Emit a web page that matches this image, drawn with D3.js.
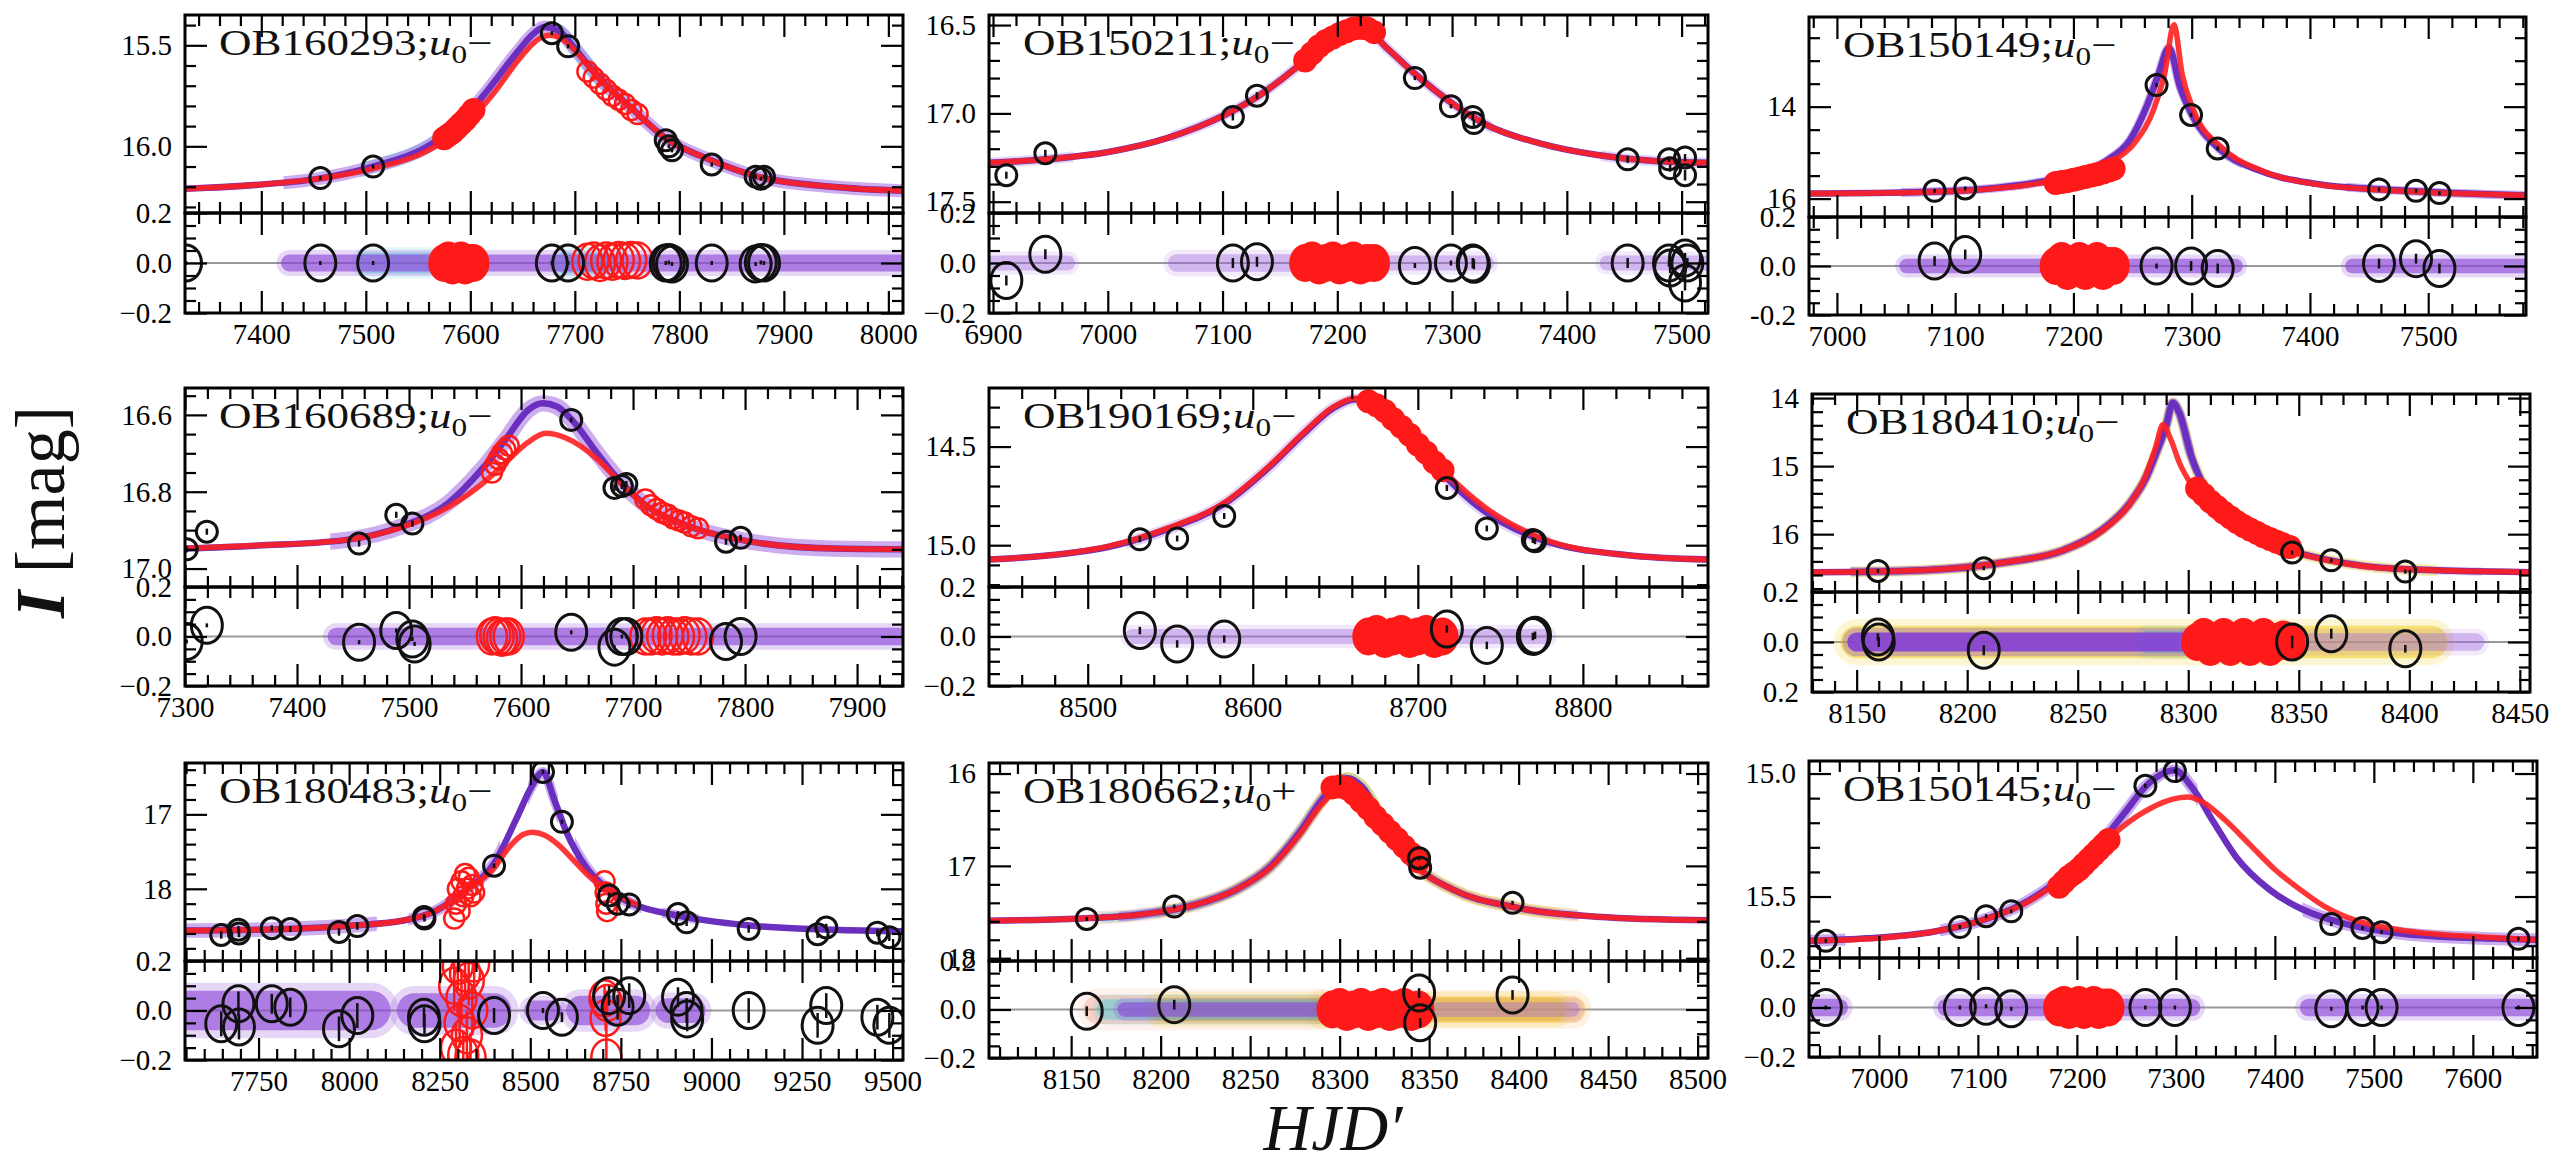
<!DOCTYPE html>
<html><head><meta charset="utf-8">
<script src="https://cdn.jsdelivr.net/npm/d3@7"></script>
<style>html,body{margin:0;padding:0;background:#fff;}svg{display:block}</style>
</head><body>
<svg id="chart" width="2575" height="1166"></svg>
<script>
// ---------------- DATA ----------------
const titles = ["OB160293","OB150211","OB150149","OB160689","OB190169","OB180410","OB180483","OB180662","OB150145"];
const signs  = ["−","−","−","−","−","−","−","+","−"];
const resTicks = [0.2, 0.0, -0.2];
const resLabelsStd = ["0.2","0.0","−0.2"];
const resLabelsC = ["0.2","0.0","-0.2"];
const resLabelsF = ["0.2","0.0","0.2"];

// Panel A  OB160293
const A_xTicks = [7400,7500,7600,7700,7800,7900,8000];
const A_yTicks = [15.5,16.0];
const A_purple = [[7327,16.21],[7397,16.19],[7455,16.16],[7507,16.10],[7556,16.01],[7589,15.89],[7617,15.72],[7644,15.54],[7661,15.44],[7671,15.41],[7685,15.43],[7699,15.51],[7721,15.65],[7754,15.81],[7787,15.96],[7831,16.07],[7875,16.15],[7946,16.20],[8014,16.22]];
const A_red = [[7327,16.21],[7397,16.19],[7455,16.16],[7507,16.11],[7556,16.03],[7592,15.91],[7622,15.74],[7648,15.56],[7665,15.47],[7676,15.45],[7688,15.47],[7701,15.53],[7722,15.66],[7754,15.81],[7787,15.96],[7831,16.07],[7875,16.15],[7946,16.20],[8014,16.22]];
const A_black = [[7328,null,0,0.004],[7456.5,16.157,0,0.004],[7507,16.10,0,0.006],[7678,15.44,0,0.004],[7693.6,15.505,0,0.004],[7787,15.97,0,0.004],[7790,16.0,0.002,0.004],[7793,16.02,-0.004,0.004],[7831,16.09,0,0.004],[7873,16.15,-0.004,0.004],[7878,16.16,0.002,0.004],[7881,16.15,0,0.004]];
const A_redDense = [[7575,15.96,0],[7579,15.945,0.01],[7583,15.93,-0.01],[7587,15.91,0],[7591,15.89,0.01],[7595,15.87,-0.01],[7599,15.845,0],[7603,15.82,0]];
const A_redOpen = [[7712,15.63,0.005],[7718,15.66,0.01],[7724,15.69,0.0],[7730,15.72,0.01],[7736,15.75,0.005],[7742,15.77,0.012],[7748,15.79,0.008],[7754,15.82,0.012],[7760,15.84,0.01]];
const A_bands = [["kmt",7500,7560,0.042,0.018],["kmt",7690,7725,0.042,0.018],["ogle",7427,8014,0.034,0.015]];

// Panel B  OB150211
const B_xTicks = [6900,7000,7100,7200,7300,7400,7500];
const B_yTicks = [16.5,17.0,17.5];
const B_purple = [[6896.5,17.28],[6946.6,17.26],[7001.6,17.217],[7051.6,17.14],[7101.6,17.01],[7131.6,16.90],[7161.6,16.755],[7181.6,16.64],[7201.6,16.557],[7216.6,16.52],[7226.6,16.53],[7241.6,16.62],[7266.6,16.77],[7301.6,16.95],[7331.6,17.07],[7376.5,17.17],[7426.7,17.236],[7476.7,17.27],[7523,17.28]];
const B_red = [[6896.5,17.28],[6946.6,17.26],[7001.6,17.217],[7051.6,17.14],[7101.6,17.01],[7131.6,16.9],[7161.6,16.755],[7181.6,16.645],[7201.6,16.562],[7216.6,16.527],[7226.6,16.535],[7241.6,16.62],[7266.6,16.77],[7301.6,16.95],[7331.6,17.07],[7376.5,17.17],[7426.7,17.236],[7476.7,17.27],[7523,17.28]];
const B_black = [[6911.6,17.35,-0.07,0.02],[6945.6,17.226,0.035,0.02],[7109,17.02,0,0.02],[7130,16.90,0.005,0.02],[7267.6,16.80,-0.01,0.01],[7299,16.96,0,0.01],[7318,17.02,0,0.02],[7319,17.055,-0.005,0.02],[7453,17.26,0,0.02],[7489,17.26,0,0.015],[7490,17.31,-0.02,0.02],[7503,17.25,0.02,0.02],[7503,17.35,-0.08,0.03],[7505,null,0,0.02]];
const B_redDense = [[7172,16.70,0],[7178,16.66,0.01],[7184,16.62,-0.01],[7190,16.59,0],[7196,16.57,0.01],[7202,16.55,-0.01],[7208,16.535,0],[7214,16.52,0.01],[7220,16.515,-0.01],[7226,16.52,0],[7232,16.54,0]];
const B_redOpen = [];
const B_bands = [["ogleLight",6900,6965,0.03,0.01],["ogleLight",7060,7175,0.035,0.01],["ogleLight",7235,7330,0.03,0.01],["ogleLight",7435,7523,0.03,0.01]];

// Panel C  OB150149
const C_xTicks = [7000,7100,7200,7300,7400,7500];
const C_yTicks = [14,16];
const C_purple = [[6976,15.89],[7073,15.856],[7120,15.80],[7167.5,15.66],[7205,15.45],[7229,15.16],[7247.7,14.73],[7261.8,14.0],[7271.3,13.35],[7280.8,12.72],[7290,13.56],[7299.5,14.14],[7323,14.91],[7356,15.38],[7403,15.67],[7474,15.82],[7583,15.93]];
const C_red = [[6976,15.89],[7073,15.86],[7120,15.81],[7167.5,15.68],[7205,15.5],[7232,15.2],[7252,14.78],[7268,14.05],[7277,13.3],[7285,12.22],[7292,13.3],[7302,14.1],[7326,14.9],[7358,15.38],[7403,15.68],[7474,15.83],[7583,15.93]];
const C_black = [[7082.6,15.83,0.02,0.02],[7108.5,15.78,0.047,0.02],[7270.3,13.53,0,0.01],[7299.5,14.18,0,0.02],[7322,14.91,-0.01,0.02],[7458.4,15.80,0.01,0.02],[7489.7,15.83,0.03,0.02],[7509.5,15.88,-0.01,0.02]];
const C_redDense = [[7185,15.66,0],[7190,15.64,0.02],[7195,15.62,-0.02],[7200,15.59,0],[7205,15.56,0.02],[7210,15.53,-0.02],[7215,15.50,0],[7220,15.47,0.02],[7225,15.43,-0.02],[7230,15.39,0],[7234,15.35,0]];
const C_redOpen = [];
const C_bands = [["ogle",7059,7337,0.03,0.02],["ogle",7436,7583,0.03,0.02]];

// Panel D  OB160689
const D_xTicks = [7300,7400,7500,7600,7700,7800,7900];
const D_yTicks = [16.6,16.8,17.0];
const D_purple = [[7300,16.948],[7365.6,16.94],[7442.5,16.926],[7493.7,16.89],[7534.8,16.83],[7565.5,16.74],[7586,16.665],[7606.5,16.587],[7619.4,16.57],[7632,16.578],[7647.5,16.62],[7668,16.70],[7688.6,16.774],[7709,16.83],[7750,16.89],[7801,16.928],[7878,16.948],[7941,16.95]];
const D_red = [[7300,16.948],[7365,16.94],[7442,16.926],[7494,16.892],[7535,16.84],[7565,16.78],[7586,16.725],[7606,16.672],[7622,16.648],[7640,16.66],[7668,16.715],[7688,16.775],[7709,16.83],[7750,16.89],[7801,16.928],[7878,16.948],[7941,16.95]];
const D_black = [[7301.5,16.95,-0.02,0.008],[7319.5,16.904,0.045,0.008],[7455.4,16.935,-0.023,0.008],[7488.6,16.86,0.024,0.008],[7503,16.883,-0.01,0.008],[7505,null,-0.03,0.008],[7644.8,16.613,0.017,0.006],[7683.4,16.79,-0.043,0.008],[7690,16.785,0,0.008],[7694,16.78,0,0.008],[7783,16.93,-0.02,0.008],[7796,16.92,0,0.008]];
const D_redDense = [];
const D_redOpen = [[7574,16.75,0],[7577,16.73,0.005],[7580,16.715,0],[7583,16.70,-0.005],[7586,16.69,0],[7589,16.68,0],[7711,16.82,0],[7716,16.835,0],[7721,16.845,0.005],[7726,16.855,0],[7731,16.86,0.005],[7736,16.87,0],[7741,16.875,0],[7746,16.88,0.005],[7752,16.89,0],[7758,16.895,0]];
const D_bands = [["ogle",7435,7941,0.035,0.012]];

// Panel E  OB190169
const E_xTicks = [8500,8600,8700,8800];
const E_yTicks = [14.5,15.0];
const E_purple = [[8440.2,15.073],[8478.5,15.05],[8513,15.008],[8548,14.92],[8582.7,14.79],[8610.5,14.60],[8631.4,14.43],[8648.7,14.305],[8662.6,14.26],[8676.5,14.297],[8693.9,14.43],[8714.8,14.635],[8739.1,14.82],[8773.9,14.97],[8826,15.05],[8875.8,15.073]];
const E_red = [[8440.2,15.073],[8478.5,15.05],[8513,15.005],[8548,14.915],[8582.7,14.785],[8610.5,14.595],[8631.4,14.425],[8648.7,14.30],[8662.6,14.255],[8677,14.29],[8695,14.42],[8716,14.625],[8741,14.81],[8775,14.965],[8826,15.05],[8875.8,15.073]];
const E_black = [[8531.6,14.97,0.024,0.015],[8554.2,14.966,-0.03,0.015],[8582.7,14.852,-0.01,0.015],[8717.6,14.71,0.03,0.015],[8741.8,14.915,-0.036,0.015],[8769.7,14.974,0,0.015],[8771,14.98,0.005,0.015]];
const E_redDense = [[8670,14.27,0],[8675,14.29,0.01],[8680,14.32,-0.01],[8685,14.36,0],[8690,14.40,0.01],[8695,14.44,-0.01],[8700,14.49,0],[8705,14.53,0.01],[8710,14.58,-0.01],[8715,14.62,0]];
const E_redOpen = [];
const E_bands = [["ogleLight",8527,8777,0.03,0.012]];

// Panel F  OB180410
const F_xTicks = [8150,8200,8250,8300,8350,8400,8450];
const F_yTicks = [14,15,16];
const F_purple = [[8129.8,16.56],[8180.2,16.53],[8218,16.41],[8243.2,16.24],[8260.9,15.94],[8273.5,15.55],[8281,15.16],[8286,14.76],[8289.9,14.42],[8293,14.07],[8296,14.22],[8301,14.81],[8308.8,15.40],[8321.4,15.84],[8339,16.16],[8364.2,16.385],[8394.4,16.51],[8454.5,16.56]];
const F_red = [[8129.8,16.56],[8180,16.53],[8218,16.41],[8243,16.24],[8261,15.95],[8273,15.58],[8280,15.2],[8285,14.75],[8288.6,14.39],[8292,14.6],[8296,14.95],[8302,15.3],[8310,15.6],[8321,15.88],[8339,16.17],[8364,16.39],[8394,16.51],[8454.5,16.56]];
const F_black = [[8159.6,16.54,0.02,0.015],[8160,null,0,0.02],[8207.5,16.50,-0.033,0.02],[8347,16.27,0,0.025],[8364.7,16.385,0.033,0.02],[8398.2,16.55,-0.027,0.015]];
const F_redDense = [[8304,15.33,0],[8307,15.42,0.02],[8310,15.52,-0.02],[8313,15.6,0],[8316,15.68,0.02],[8319,15.75,-0.02],[8322,15.82,0],[8325,15.88,0.02],[8328,15.93,-0.02],[8331,15.98,0],[8334,16.03,0.02],[8337,16.07,-0.02],[8340,16.11,0],[8343,16.15,0.01],[8346,16.19,0]];
const F_redOpen = [];
const F_bands = [["yellow",8150,8410,0.065,0.03],["kmt",8282,8308,0.045,0.01],["ogleSolid",8150,8300,0.038,0.015],["ogleLight",8300,8430,0.035,0.01]];

// Panel G  OB180483
const G_xTicks = [7750,8000,8250,8500,8750,9000,9250,9500];
const G_yTicks = [17,18];
const G_purple = [[7547,18.56],[7829,18.54],[8019.6,18.49],[8146.4,18.43],[8241.7,18.29],[8321,18.02],[8400,17.66],[8463.5,17.04],[8503.3,16.63],[8535,16.43],[8566.8,16.81],[8598.3,17.22],[8653.9,17.71],[8717.4,18.02],[8781,18.20],[8907.7,18.36],[9098,18.49],[9336,18.55],[9528.7,18.57]];
const G_red = [[7547,18.56],[7829,18.54],[8020,18.49],[8146,18.43],[8242,18.29],[8321,18.03],[8400,17.72],[8440,17.45],[8480,17.27],[8505,17.24],[8540,17.28],[8580,17.42],[8620,17.62],[8660,17.82],[8720,18.03],[8800,18.22]];
const G_black = [[7647,18.62,-0.054,0.05],[7694.5,18.55,0.027,0.05],[7696,18.60,-0.067,0.05],[7786.5,18.53,0.027,0.04],[7837.5,18.54,0.013,0.04],[7972,18.58,-0.074,0.05],[8022.6,18.50,-0.02,0.05],[8206.6,18.38,-0.027,0.04],[8208,18.40,-0.054,0.04],[8400,17.69,-0.02,0.03],[8535,16.43,0,0.01],[8587.3,17.10,-0.027,0.02],[8717.4,18.09,0.06,0.04],[8741,18.20,0.013,0.05],[8773,18.21,0.06,0.05],[8907.7,18.34,0.054,0.04],[8931.5,18.45,0,0.05],[8933,null,-0.034,0.05],[9102.8,18.54,0,0.05],[9293,18.61,-0.06,0.05],[9316.9,18.52,0.02,0.05],[9458,18.59,-0.027,0.05],[9491,18.65,-0.06,0.05]];
const G_redDense = [];
const G_redOpen = [[8290,18.40,0.1,0.1],[8295,18.2,-0.15,0.1],[8300,18.0,0.18,0.1],[8305,18.3,-0.05,0.1],[8310,17.9,0.05,0.1],[8315,18.1,-0.18,0.1],[8320,17.8,0.15,0.1],[8325,18.0,-0.1,0.1],[8330,17.85,0.12,0.1],[8335,18.1,-0.19,0.1],[8340,17.95,0.0,0.1],[8345,18.05,0.19,0.1],[8705,17.9,0.05,0.05],[8708,18.05,-0.03,0.05],[8710,18.2,-0.19,0.15],[8712,18.3,0.03,0.05]];
const G_bands = [["ogle",7547,8060,0.08,0.05],["ogle",8180,8400,0.07,0.03],["ogle",8510,8560,0.04,0.02],["ogle",8640,8790,0.06,0.03],["ogle",8880,8950,0.05,0.02]];

// Panel H  OB180662
const H_xTicks = [8150,8200,8250,8300,8350,8400,8450,8500];
const H_yTicks = [16,17,18];
const H_purple = [[8104,17.593],[8155.4,17.57],[8187.4,17.53],[8219.5,17.42],[8241.9,17.26],[8261.2,17.01],[8277.2,16.65],[8290,16.29],[8299.6,16.09],[8304.4,16.05],[8312.4,16.14],[8325.2,16.54],[8341.2,16.97],[8363.6,17.26],[8395.7,17.44],[8443.7,17.55],[8505.6,17.59]];
const H_red = [[8104,17.593],[8155.4,17.57],[8187.4,17.53],[8219.5,17.42],[8241.9,17.26],[8261.2,17.02],[8277.2,16.67],[8290,16.33],[8298,16.2],[8303,16.17],[8312.4,16.24],[8325.2,16.58],[8341.2,16.98],[8363.6,17.26],[8395.7,17.44],[8443.7,17.55],[8505.6,17.59]];
const H_black = [[8158.7,17.575,-0.007,0.02],[8207.6,17.44,0.02,0.02],[8344.4,16.917,0.068,0.02],[8345,17.02,-0.055,0.02],[8396.6,17.40,0.06,0.02]];
const H_redDense = [[8296,16.15,0],[8300,16.14,0.01],[8304,16.16,-0.01],[8308,16.22,0],[8312,16.30,0.01],[8316,16.38,-0.01],[8320,16.47,0],[8324,16.55,0.01],[8328,16.63,-0.01],[8332,16.71,0],[8336,16.79,0.01],[8340,16.87,-0.01],[8344,16.95,0]];
const H_redOpen = [];
const H_bands = [["salmon",8165,8290,0.06,0.035],["orange",8290,8430,0.055,0.03],["yellow",8200,8420,0.05,0.025],["kmt",8170,8330,0.042,0.02],["ogle",8180,8300,0.03,0.015],["ogleLight",8345,8430,0.03,0.015]];

// Panel I  OB150145
const I_xTicks = [7000,7100,7200,7300,7400,7500,7600];
const I_yTicks = [15.0,15.5];
const I_purple = [[6929.4,15.68],[6988.7,15.67],[7056.4,15.642],[7101.5,15.60],[7146.7,15.527],[7186.1,15.42],[7220,15.30],[7248.2,15.16],[7270.8,15.047],[7299,14.987],[7315.9,15.054],[7338.5,15.20],[7361,15.34],[7394.9,15.473],[7428.8,15.554],[7468.3,15.608],[7524.7,15.649],[7609.4,15.67],[7664.8,15.676]];
const I_red = [[6929.4,15.68],[6989,15.672],[7056,15.642],[7101,15.60],[7147,15.53],[7186,15.425],[7220,15.31],[7248,15.21],[7275,15.14],[7296,15.105],[7312,15.095],[7327,15.115],[7350,15.19],[7375,15.29],[7400,15.39],[7425,15.47],[7450,15.54],[7480,15.595],[7525,15.635],[7609,15.665],[7664.8,15.676]];
const I_black = [[6946.4,15.68,0,0.005],[7081.8,15.624,0,0.005],[7108.3,15.58,0.005,0.005],[7133.7,15.56,-0.005,0.005],[7269.2,15.05,0,0.005],[7299,14.99,0,0.005],[7457,15.612,-0.005,0.005],[7488.6,15.628,0,0.005],[7507.8,15.645,0,0.005],[7646,15.672,0,0.005]];
const I_redDense = [[7182,15.46,0],[7187,15.44,0.01],[7192,15.42,-0.01],[7197,15.405,0],[7202,15.39,0.01],[7207,15.37,-0.01],[7212,15.35,0],[7217,15.33,0.01],[7222,15.31,-0.01],[7227,15.29,0],[7232,15.27,0]];
const I_redOpen = [];
const I_bands = [["ogle",6929,6960,0.035,0.01],["ogle",7068,7316,0.035,0.01],["ogle",7434,7665,0.035,0.012]];

// ---------------- LAYOUT / STYLE ----------------
const FONT = "'Liberation Serif','Times New Roman',serif";
const BAND_COLORS = {ogle:"#8a45d8", ogleSolid:"#8440d6", ogleLight:"#9a62de", kmt:"#3cc6d6", yellow:"#f2cc10", salmon:"#f5a08a", orange:"#f7a840"};
const BAND_OPACITY = {ogle:0.62, ogleSolid:0.9, ogleLight:0.38, kmt:0.4, yellow:0.5, salmon:0.4, orange:0.42};
const PURPLE = "#6b2fbf", RED = "#ff2020", SPITZER = "#ff1a1a";

const panels = [
 {box:{left:185,right:903,top:15,mid:213,bottom:313}, xDom:[7327,8014], yDom:[16.33,15.35], xT:A_xTicks, xMin:20, yT:A_yTicks, yMin:0.1, yFmt:".1f", resL:resLabelsStd, purple:A_purple, red:A_red, black:A_black, dense:A_redDense, open:A_redOpen, bands:A_bands},
 {box:{left:989,right:1708,top:15,mid:213,bottom:313}, xDom:[6896.5,7523], yDom:[17.564,16.443], xT:B_xTicks, xMin:20, yT:B_yTicks, yMin:0.1, yFmt:".1f", resL:resLabelsStd, purple:B_purple, red:B_red, black:B_black, dense:B_redDense, open:B_redOpen, bands:B_bands},
 {box:{left:1809,right:2526,top:17,mid:217,bottom:315}, xDom:[6976.4,7582.7], yDom:[16.4,12.05], xT:C_xTicks, xMin:20, yT:C_yTicks, yMin:0.5, yFmt:"d", resL:resLabelsC, purple:C_purple, red:C_red, black:C_black, dense:C_redDense, open:C_redOpen, bands:C_bands},
 {box:{left:185,right:903,top:388,mid:587,bottom:686}, xDom:[7300,7941], yDom:[17.048,16.53], xT:D_xTicks, xMin:20, yT:D_yTicks, yMin:0.05, yFmt:".1f", resL:resLabelsStd, purple:D_purple, red:D_red, black:D_black, dense:D_redDense, open:D_redOpen, bands:D_bands},
 {box:{left:989,right:1708,top:388,mid:587,bottom:686}, xDom:[8440.2,8875.8], yDom:[15.212,14.203], xT:E_xTicks, xMin:20, yT:E_yTicks, yMin:0.1, yFmt:".1f", resL:resLabelsStd, purple:E_purple, red:E_red, black:E_black, dense:E_redDense, open:E_redOpen, bands:E_bands},
 {box:{left:1812,right:2530,top:394,mid:592,bottom:692}, xDom:[8129.8,8454.6], yDom:[16.85,13.94], xT:F_xTicks, xMin:10, yT:F_yTicks, yMin:0.2, yFmt:"d", resL:resLabelsF, purple:F_purple, red:F_red, black:F_black, dense:F_redDense, open:F_redOpen, bands:F_bands},
 {box:{left:185,right:903,top:763,mid:961,bottom:1060}, xDom:[7547,9528.7], yDom:[18.97,16.31], xT:G_xTicks, xMin:50, yT:G_yTicks, yMin:0.2, yFmt:"d", resL:resLabelsStd, purple:G_purple, red:G_red, black:G_black, dense:G_redDense, open:G_redOpen, bands:G_bands},
 {box:{left:989,right:1708,top:763,mid:961,bottom:1058}, xDom:[8104.1,8505.8], yDom:[18.03,15.886], xT:H_xTicks, xMin:10, yT:H_yTicks, yMin:0.2, yFmt:"d", resL:resLabelsStd, purple:H_purple, red:H_red, black:H_black, dense:H_redDense, open:H_redOpen, bands:H_bands},
 {box:{left:1809,right:2537,top:761,mid:958,bottom:1057}, xDom:[6929.4,7664.8], yDom:[15.75,14.949], xT:I_xTicks, xMin:20, yT:I_yTicks, yMin:0.1, yFmt:".1f", resL:resLabelsStd, purple:I_purple, red:I_red, black:I_black, dense:I_redDense, open:I_redOpen, bands:I_bands}
];

const svg = d3.select("#chart");
svg.append("rect").attr("width",2575).attr("height",1166).attr("fill","#fff");
const defs = svg.append("defs");

function inDom(v, dom){ const lo=Math.min(...dom), hi=Math.max(...dom); return v>=lo-1e-9 && v<=hi+1e-9; }
function minorVals(dom, step, majors){
  const lo=Math.min(...dom), hi=Math.max(...dom), out=[];
  for(let k=Math.ceil(lo/step-1e-9); k*step<=hi+1e-9; k++){
    const v=+(k*step).toFixed(6);
    if(!majors.some(m=>Math.abs(m-v)<step*1e-3)) out.push(v);
  }
  return out;
}
function drawAxis(parent, tx, ty, gen, scale, vals, len, fmt, pad){
  const a = gen(scale).tickValues(vals).tickSize(-len).tickPadding(pad||10).tickFormat(fmt||(()=>""));
  const s = parent.append("g").attr("transform",`translate(${tx},${ty})`).call(a);
  s.select(".domain").remove();
  s.selectAll(".tick line").attr("stroke","#000").attr("stroke-width",2.2);
  s.selectAll(".tick text").attr("fill","#000").attr("font-family",FONT).attr("font-size",29);
  return s;
}

panels.forEach((p,i)=>{
  const B=p.box;
  const x = d3.scaleLinear().domain(p.xDom).range([B.left,B.right]);
  const y = d3.scaleLinear().domain(p.yDom).range([B.mid,B.top]);
  const r = d3.scaleLinear().domain([-0.2,0.2]).range([B.bottom,B.mid]);
  const pxMag = Math.abs(y(p.yDom[0])-y(p.yDom[0]-1));
  const pxRes = Math.abs(r(1)-r(0));
  const g = svg.append("g");

  defs.append("clipPath").attr("id","cm"+i).append("rect").attr("x",B.left).attr("y",B.top).attr("width",B.right-B.left).attr("height",B.mid-B.top);
  defs.append("clipPath").attr("id","cr"+i).append("rect").attr("x",B.left).attr("y",B.mid).attr("width",B.right-B.left).attr("height",B.bottom-B.mid);

  const line = d3.line().x(d=>x(d[0])).y(d=>y(d[1])).curve(d3.curveMonotoneX);
  const gm = g.append("g").attr("clip-path",`url(#cm${i})`);
  const gr = g.append("g").attr("clip-path",`url(#cr${i})`);

  // ---- main panel: data halos along curve
  p.bands.forEach((b,j)=>{
    const id=`bc${i}_${j}`;
    defs.append("clipPath").attr("id",id).append("rect").attr("x",x(b[1])-6).attr("y",B.top).attr("width",x(b[2])-x(b[1])+12).attr("height",B.mid-B.top);
    gm.append("path").datum(p.purple).attr("d",line).attr("clip-path",`url(#${id})`)
      .attr("fill","none").attr("stroke",BAND_COLORS[b[0]]).attr("stroke-opacity",Math.min(0.5,BAND_OPACITY[b[0]]*0.7))
      .attr("stroke-width",7+2*b[4]*pxMag).attr("stroke-linecap","round");
  });
  gm.append("path").datum(p.purple).attr("d",line).attr("fill","none").attr("stroke",PURPLE).attr("stroke-width",6.5);
  gm.append("path").datum(p.red).attr("d",line).attr("fill","none").attr("stroke",RED).attr("stroke-opacity",0.9).attr("stroke-width",5.5);

  // Spitzer points (main)
  gm.selectAll(".sd").data(p.dense).enter().append("circle")
    .attr("cx",d=>x(d[0])).attr("cy",d=>y(d[1])).attr("r",11).attr("fill",SPITZER).attr("stroke",SPITZER).attr("stroke-width",2);
  gm.selectAll(".so").data(p.open).enter().append("circle")
    .attr("cx",d=>x(d[0])).attr("cy",d=>y(d[1])).attr("r",10).attr("fill","none").attr("stroke",SPITZER).attr("stroke-width",2.5);
  // black points (main)
  const bm = p.black.filter(d=>d[1]!==null);
  gm.selectAll(".bl").data(bm).enter().append("line")
    .attr("x1",d=>x(d[0])).attr("x2",d=>x(d[0])).attr("y1",d=>y(d[1])-Math.max(2,d[3]*pxMag)).attr("y2",d=>y(d[1])+Math.max(2,d[3]*pxMag))
    .attr("stroke","#111").attr("stroke-width",2.5);
  gm.selectAll(".bc").data(bm).enter().append("circle")
    .attr("cx",d=>x(d[0])).attr("cy",d=>y(d[1])).attr("r",10.5).attr("fill","none").attr("stroke","#111").attr("stroke-width",3);

  // ---- residual panel
  gr.append("line").attr("x1",B.left).attr("x2",B.right).attr("y1",r(0)).attr("y2",r(0)).attr("stroke","#999").attr("stroke-width",2);
  p.bands.forEach(b=>{
    const col=BAND_COLORS[b[0]], op=BAND_OPACITY[b[0]];
    gr.append("line").attr("x1",x(b[1])).attr("x2",x(b[2])).attr("y1",r(0)).attr("y2",r(0))
      .attr("stroke",col).attr("stroke-opacity",op*0.35).attr("stroke-width",2*b[3]*pxRes*1.3+4).attr("stroke-linecap","round");
    gr.append("line").attr("x1",x(b[1])).attr("x2",x(b[2])).attr("y1",r(0)).attr("y2",r(0))
      .attr("stroke",col).attr("stroke-opacity",op).attr("stroke-width",2*b[3]*pxRes).attr("stroke-linecap","round");
  });
  gr.selectAll(".rd").data(p.dense).enter().append("ellipse")
    .attr("cx",d=>x(d[0])).attr("cy",d=>r(d[2])).attr("rx",15).attr("ry",18).attr("fill",SPITZER).attr("stroke",SPITZER).attr("stroke-width",2);
  gr.selectAll(".rel").data(p.open.filter(d=>d[3])).enter().append("line")
    .attr("x1",d=>x(d[0])).attr("x2",d=>x(d[0])).attr("y1",d=>r(d[2]-d[3])).attr("y2",d=>r(d[2]+d[3]))
    .attr("stroke",SPITZER).attr("stroke-width",2.5);
  gr.selectAll(".ro").data(p.open).enter().append("ellipse")
    .attr("cx",d=>x(d[0])).attr("cy",d=>r(d[2])).attr("rx",15).attr("ry",18).attr("fill","none").attr("stroke",SPITZER).attr("stroke-width",2.5);
  gr.selectAll(".bre").data(p.black).enter().append("line")
    .attr("x1",d=>x(d[0])).attr("x2",d=>x(d[0])).attr("y1",d=>r(d[2])-Math.max(2,d[3]*pxRes)).attr("y2",d=>r(d[2])+Math.max(2,d[3]*pxRes))
    .attr("stroke","#111").attr("stroke-width",2.5);
  gr.selectAll(".brc").data(p.black).enter().append("ellipse")
    .attr("cx",d=>x(d[0])).attr("cy",d=>r(d[2])).attr("rx",15.5).attr("ry",18).attr("fill","none").attr("stroke","#111").attr("stroke-width",3);

  // ---- axes / ticks
  const xMaj = p.xT.filter(v=>inDom(v,p.xDom));
  const xMinV = minorVals(p.xDom,p.xMin,p.xT);
  const yMaj = p.yT.filter(v=>inDom(v,p.yDom));
  const yMinV = minorVals(p.yDom,p.yMin,p.yT);
  const rMinV = minorVals([-0.2,0.2],0.05,resTicks);
  const ax = g.append("g");
  const MJ=22, MN=11;
  [[d3.axisTop,B.top],[d3.axisBottom,B.mid],[d3.axisTop,B.mid]].forEach(([gen,yy])=>{
    drawAxis(ax,0,yy,gen,x,xMaj,MJ); drawAxis(ax,0,yy,gen,x,xMinV,MN);
  });
  drawAxis(ax,0,B.bottom,d3.axisBottom,x,xMaj,MJ,d3.format("d"),10);
  drawAxis(ax,0,B.bottom,d3.axisBottom,x,xMinV,MN);
  drawAxis(ax,B.left,0,d3.axisLeft,y,yMaj,MJ,d3.format(p.yFmt),13);
  drawAxis(ax,B.left,0,d3.axisLeft,y,yMinV,MN);
  drawAxis(ax,B.right,0,d3.axisRight,y,yMaj,MJ);
  drawAxis(ax,B.right,0,d3.axisRight,y,yMinV,MN);
  drawAxis(ax,B.left,0,d3.axisLeft,r,resTicks,MJ,(d,k)=>p.resL[k],13);
  drawAxis(ax,B.left,0,d3.axisLeft,r,rMinV,MN);
  drawAxis(ax,B.right,0,d3.axisRight,r,resTicks,MJ);
  drawAxis(ax,B.right,0,d3.axisRight,r,rMinV,MN);

  // frames
  g.append("rect").attr("x",B.left).attr("y",B.top).attr("width",B.right-B.left).attr("height",B.mid-B.top).attr("fill","none").attr("stroke","#000").attr("stroke-width",3);
  g.append("rect").attr("x",B.left).attr("y",B.mid).attr("width",B.right-B.left).attr("height",B.bottom-B.mid).attr("fill","none").attr("stroke","#000").attr("stroke-width",3);

  // title (horizontally stretched like the original)
  const t = g.append("text").attr("transform",`translate(${B.left+34},${B.top+40}) scale(1.25,1)`)
    .attr("font-family",FONT).attr("font-size",36).attr("fill","#111");
  t.append("tspan").text(titles[i]+";");
  t.append("tspan").attr("font-style","italic").text("u");
  t.append("tspan").attr("font-size",25).attr("dy",8).text("0");
  t.append("tspan").attr("dy",-8).text(signs[i]);
});

// axis labels
const yl = svg.append("text").attr("transform","translate(64,512) rotate(-90)").attr("text-anchor","middle")
  .attr("font-family",FONT).attr("font-size",70).attr("fill","#111");
yl.append("tspan").attr("font-style","italic").attr("font-weight","bold").text("I");
yl.append("tspan").text(" [mag]");
svg.append("text").attr("x",1333).attr("y",1150).attr("text-anchor","middle").attr("font-family",FONT)
  .attr("font-style","italic").attr("font-size",66).attr("fill","#111").text("HJD′");
</script>
</body></html>
